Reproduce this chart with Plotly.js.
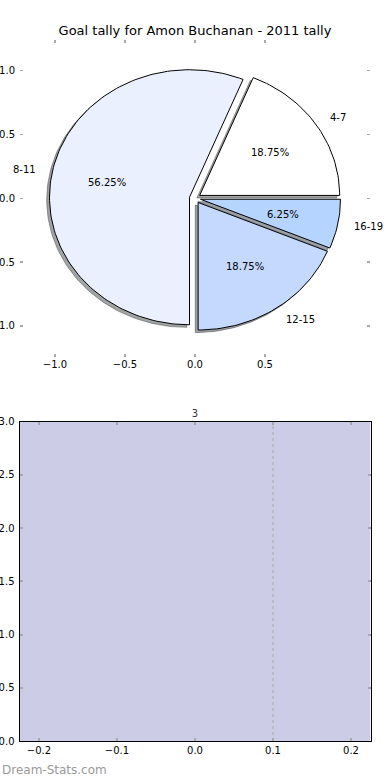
<!DOCTYPE html>
<html><head><meta charset="utf-8">
<script src="https://cdn.plot.ly/plotly-3.0.1.min.js"></script>
<style>html,body{margin:0;padding:0;background:#fff}#chart{width:390px;height:780px}</style>
</head><body><div id="chart"></div>
<script>
// ---- data ----
const categories = ['4-7', '8-11', '12-15', '16-19'];
const goals = [3, 9, 3, 1];
const sliceColors = ['#ffffff', '#eaf0fd', '#c5d8fe', '#b5d4ff'];
const barCategories = [0];
const barValues = [3];
const barLabels = ['3'];
const pieXTicks = [-1.0, -0.5, 0.0, 0.5];
const pieYTicks = [-1.0, -0.5, 0.0, 0.5, 1.0];
const barXTicks = [-0.2, -0.1, 0.0, 0.1, 0.2];
const barYTicks = [0, 0.5, 1, 1.5, 2, 2.5, 3];
const gridMarkX = [0.1];
const titleText = 'Goal tally for Amon Buchanan - 2011 tally';
const watermark = 'Dream-Stats.com';

// ---- style ----
const FONT = 'DejaVu Sans, Verdana, sans-serif';
const EXPLODE = 0.04, SH_X = -0.02, SH_Y = -0.02;
const LABEL_DIST = 1.1, PCT_DIST = 0.6;

function hexToRgb(h){h=h.replace('#','');return [0,2,4].map(i=>parseInt(h.substr(i,2),16));}

const total = goals.reduce((a, b) => a + b, 0);
const shadowTraces = [], wedgeTraces = [], annotations = [];
let start = 0;
goals.forEach((v, i) => {
  const frac = v / total;
  const a0 = start * 2 * Math.PI, a1 = (start + frac) * 2 * Math.PI;
  const mid = (a0 + a1) / 2;
  const cx = EXPLODE * Math.cos(mid), cy = EXPLODE * Math.sin(mid);
  const n = Math.max(10, Math.ceil(frac * 240));
  const xs = [cx], ys = [cy];
  for (let k = 0; k <= n; k++) {
    const t = a0 + (a1 - a0) * k / n;
    xs.push(cx + Math.cos(t)); ys.push(cy + Math.sin(t));
  }
  xs.push(cx); ys.push(cy);
  const rgb = hexToRgb(sliceColors[i]).map(c => Math.round(c * 0.3));
  const shCol = `rgba(${rgb[0]},${rgb[1]},${rgb[2]},0.5)`;
  shadowTraces.push({type:'scatter', mode:'lines', x: xs.map(x => x + SH_X), y: ys.map(y => y + SH_Y),
    fill:'toself', fillcolor: shCol, line:{color: shCol, width:1}, hoverinfo:'skip', showlegend:false, xaxis:'x', yaxis:'y'});
  wedgeTraces.push({type:'scatter', mode:'lines', x: xs, y: ys, fill:'toself', fillcolor: sliceColors[i],
    line:{color:'#000', width:1}, hoverinfo:'skip', showlegend:false, xaxis:'x', yaxis:'y'});
  const lx = cx + LABEL_DIST * Math.cos(mid), ly = cy + LABEL_DIST * Math.sin(mid);
  annotations.push({x: lx, y: ly, xref:'x', yref:'y', text: categories[i], showarrow:false,
    xanchor: lx > 0 ? 'left' : 'right', yanchor:'middle', font:{family:FONT, size:10, color:'#000'}});
  const px = cx + PCT_DIST * Math.cos(mid), py = cy + PCT_DIST * Math.sin(mid);
  annotations.push({x: px, y: py, xref:'x', yref:'y', text: (frac * 100).toFixed(2) + '%', showarrow:false,
    xanchor:'center', yanchor:'middle', font:{family:FONT, size:10, color:'#000'}});
  start += frac;
});

annotations.push({x: 0, y: 10/780, xref:'paper', yref:'paper', text: watermark, showarrow:false,
  xanchor:'left', yanchor:'middle', font:{family:FONT, size:12, color:'#9a9a9a'}});

const barTrace = {type:'bar', x: barCategories, y: barValues, width: 0.45, xaxis:'x2', yaxis:'y2',
  marker:{color:'#cccce6', line:{width:0}}, text: barLabels, textposition:'outside', cliponaxis:false,
  textfont:{family:FONT, size:10, color:'#333344'}, hoverinfo:'skip', showlegend:false};

const tickCol = '#a8a8a8';
const layout = {
  width: 390, height: 780, margin:{l:0, r:0, t:0, b:0},
  paper_bgcolor:'#fff', plot_bgcolor:'#fff', showlegend:false,
  font:{family:FONT, size:10, color:'#000'},
  title:{text: titleText, x:0.5, xanchor:'center', y: 1 - 30/780, yanchor:'middle', font:{family:FONT, size:13, color:'#000'}},
  xaxis:{domain:[20/390, 370/390], range:[-1.25, 1.25], anchor:'y', tickvals: pieXTicks, tickformat:'.1f',
    ticks:'inside', ticklen:3, tickwidth:1.5, tickcolor: tickCol, mirror:'ticks', showline:false, showgrid:false, zeroline:false,
    tickfont:{family:FONT, size:10, color:'#000'}, fixedrange:true},
  yaxis:{domain:[1 - 357/780, 1 - 39.5/780], range:[-1.245, 1.245], anchor:'x', tickvals: pieYTicks, tickformat:'.1f',
    ticks:'inside', ticklen:3, tickwidth:1.5, tickcolor: tickCol, mirror:'ticks', showline:false, showgrid:false, zeroline:false,
    ticklabelstandoff:4, tickfont:{family:FONT, size:10, color:'#000'}, fixedrange:true},
  xaxis2:{domain:[19.5/390, 370.5/390], range:[-0.225, 0.225], anchor:'y2', tickvals: barXTicks, tickformat:'.1f',
    ticks:'inside', ticklen:3, tickwidth:2, tickcolor: tickCol, mirror:'ticks', showline:true, linecolor:'#000', linewidth:1,
    showgrid:false, zeroline:false, tickfont:{family:FONT, size:10, color:'#000'}, fixedrange:true},
  yaxis2:{domain:[1 - 741/780, 1 - 421.5/780], range:[0, 3], anchor:'x2', tickvals: barYTicks, tickformat:'.1f',
    ticks:'inside', ticklen:3, tickwidth:2, tickcolor: tickCol, mirror:'ticks', showline:true, linecolor:'#000', linewidth:1,
    ticklabelstandoff:2, showgrid:false, zeroline:false, tickfont:{family:FONT, size:10, color:'#000'}, fixedrange:true},
  shapes: gridMarkX.map(g => ({type:'line', xref:'x2', yref:'y2', x0:g, x1:g, y0:0, y1:3, layer:'above',
    line:{color:'#aaaaaa', width:1, dash:'dot'}})),
  annotations: annotations
};

Plotly.newPlot('chart', [...shadowTraces, ...wedgeTraces, barTrace], layout, {staticPlot:true, displayModeBar:false});
</script>
</body></html>
